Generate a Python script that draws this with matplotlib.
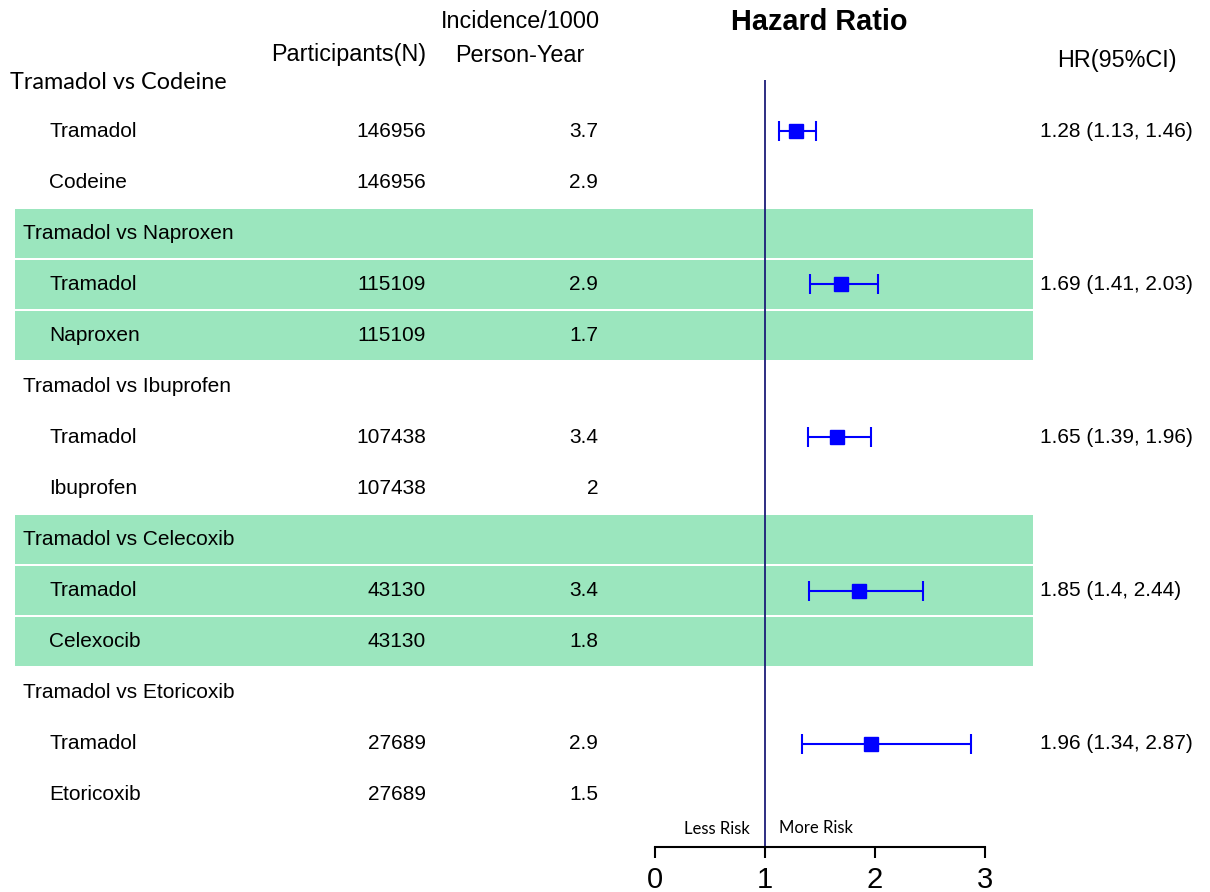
import numpy as np
import matplotlib
matplotlib.use("Agg")
import matplotlib.pyplot as plt
from matplotlib.patches import Rectangle

plt.rcParams['font.family'] = ['Liberation Sans', 'DejaVu Sans']

# data
groups = ["Tramadol vs Codeine", "Tramadol vs Naproxen", "Tramadol vs Ibuprofen",
          "Tramadol vs Celecoxib", "Tramadol vs Etoricoxib"]
comparators = ["Codeine", "Naproxen", "Ibuprofen", "Celexocib", "Etoricoxib"]
participants = [146956, 115109, 107438, 43130, 27689]
inc_tramadol = ["3.7", "2.9", "3.4", "3.4", "2.9"]
inc_comparator = ["2.9", "1.7", "2", "1.8", "1.5"]
hr = np.array([1.28, 1.69, 1.65, 1.85, 1.96])
hr_lo = np.array([1.13, 1.41, 1.39, 1.40, 1.34])
hr_hi = np.array([1.46, 2.03, 1.96, 2.44, 2.87])
hr_text = ["1.28 (1.13, 1.46)", "1.69 (1.41, 2.03)", "1.65 (1.39, 1.96)",
           "1.85 (1.4, 2.44)", "1.96 (1.34, 2.87)"]
shaded = [1, 3]

# layout (pixels)
W, H = 1210, 892
ROW0, ROW_H = 80, 51.07
GREEN = '#9be6be'
CALIBRI = ['Lato', 'DejaVu Sans']

fig = plt.figure(figsize=(W / 100, H / 100), dpi=100)
ax = fig.add_axes([0, 0, 1, 1])
ax.set_xlim(0, W)
ax.set_ylim((H - ROW0) / ROW_H, -ROW0 / ROW_H)
ax.axis('off')

def yrow(px):
    return (px - ROW0) / ROW_H

# shaded bands
for g in shaded:
    for k in range(3):
        r = 3 * g + k
        ax.add_patch(Rectangle((15, r - 0.5 + 0.02), 1033 - 15, 0.96,
                               facecolor=GREEN, edgecolor='none', zorder=0))

fs = 15
for g in range(len(groups)):
    r = 3 * g
    if g == 0:
        ax.text(10, r + 0.04, groups[g], fontsize=16.8, family=CALIBRI,
                va='center', ha='left')
    else:
        ax.text(23, r, groups[g], fontsize=fs, va='center', ha='left')
    ax.text(49, r + 1, "Tramadol", fontsize=fs, va='center')
    ax.text(49, r + 2, comparators[g], fontsize=fs, va='center')
    ax.text(426, r + 1, str(participants[g]), fontsize=fs, va='center', ha='right')
    ax.text(426, r + 2, str(participants[g]), fontsize=fs, va='center', ha='right')
    ax.text(598, r + 1, inc_tramadol[g], fontsize=fs, va='center', ha='right')
    ax.text(598, r + 2, inc_comparator[g], fontsize=fs, va='center', ha='right')
    ax.text(1040, r + 1, hr_text[g], fontsize=fs, va='center', ha='left')

# headers
hfs = 16.8
ax.text(426, yrow(55), "Participants(N)", fontsize=hfs, ha='right', va='center')
ax.text(520, yrow(22), "Incidence/1000", fontsize=hfs, ha='center', va='center')
ax.text(520, yrow(55), "Person-Year", fontsize=hfs, ha='center', va='center')
ax.text(819, yrow(22), "Hazard Ratio", fontsize=20.8, fontweight='bold',
        ha='center', va='center')
ax.text(1117, yrow(60), "HR(95%CI)", fontsize=hfs, ha='center', va='center')

# forest plot
x0, x1, ytop, ybot = 655, 985, 80, 847
axf = fig.add_axes([x0 / W, (H - ybot) / H, (x1 - x0) / W, (ybot - ytop) / H])
axf.patch.set_alpha(0)
axf.set_xlim(0, 3)
axf.set_ylim((ybot - ROW0) / ROW_H, 0)
for s in ['left', 'right', 'top']:
    axf.spines[s].set_visible(False)
axf.spines['bottom'].set_linewidth(1.5)
axf.set_yticks([])
axf.set_xticks([0, 1, 2, 3])
axf.tick_params(axis='x', direction='out', length=8, width=1.5, labelsize=21, pad=6)

axf.axvline(1, color='#1c1c78', lw=1.3, zorder=1)
rows = np.arange(len(hr)) * 3 + 1
axf.errorbar(hr, rows, xerr=[hr - hr_lo, hr_hi - hr], fmt='s', color='blue',
             ms=10, capsize=7.5, elinewidth=1.5, capthick=1.5, zorder=3)

axf.text(0.865, yrow(829), "Less Risk", fontsize=12, family=CALIBRI,
         ha='right', va='center')
axf.text(1.127, yrow(829) - 0.02, "More Risk", fontsize=12, family=CALIBRI,
         ha='left', va='center')

fig.savefig("out.png", dpi=100)
